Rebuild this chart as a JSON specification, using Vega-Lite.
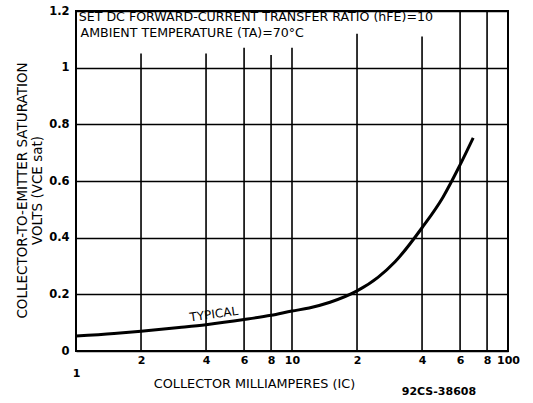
{
  "$schema": "https://vega.github.io/schema/vega-lite/v6.json",
  "width": 432,
  "height": 340,
  "autosize": {"type": "none"},
  "padding": {"left": 76, "top": 11, "right": 25, "bottom": 52},
  "background": "white",
  "config": {
    "view": {"stroke": "black", "strokeWidth": 2},
    "font": "DejaVu Sans",
    "axis": {"labelFont": "DejaVu Sans", "titleFont": "DejaVu Sans", "labelColor": "black", "titleColor": "black", "domain": false, "ticks": false}
  },
  "datasets": {
    "curve": [
      {"ic": 1, "vce": 0.053},
      {"ic": 1.5, "vce": 0.062},
      {"ic": 2, "vce": 0.07},
      {"ic": 3, "vce": 0.083},
      {"ic": 4, "vce": 0.093},
      {"ic": 6, "vce": 0.111},
      {"ic": 8, "vce": 0.126},
      {"ic": 10, "vce": 0.141},
      {"ic": 12, "vce": 0.152},
      {"ic": 15, "vce": 0.172},
      {"ic": 20, "vce": 0.212},
      {"ic": 25, "vce": 0.26},
      {"ic": 30, "vce": 0.315},
      {"ic": 40, "vce": 0.435},
      {"ic": 50, "vce": 0.543},
      {"ic": 60, "vce": 0.657},
      {"ic": 69, "vce": 0.752}
    ],
    "grid": [
      {"ic": 2, "bottom": 0, "top": 1.05},
      {"ic": 4, "bottom": 0, "top": 1.05},
      {"ic": 6, "bottom": 0, "top": 1.07},
      {"ic": 8, "bottom": 0, "top": 1.045},
      {"ic": 10, "bottom": 0, "top": 1.07},
      {"ic": 20, "bottom": 0, "top": 1.12},
      {"ic": 40, "bottom": 0, "top": 1.11},
      {"ic": 60, "bottom": 0, "top": 1.2},
      {"ic": 80, "bottom": 0, "top": 1.2}
    ],
    "notes": [
      {"ic": 1.03, "v": 1.178, "label": "SET DC FORWARD-CURRENT TRANSFER RATIO (hFE)=10"},
      {"ic": 1.05, "v": 1.122, "label": "AMBIENT TEMPERATURE (TA)=70°C"}
    ]
  },
  "layer": [
    {
      "data": {"name": "curve"},
      "mark": {"type": "line", "color": "black", "strokeWidth": 3, "interpolate": "monotone"},
      "encoding": {
        "x": {"field": "ic", "type": "quantitative", "scale": {"type": "log", "domain": [1, 100], "nice": false},
          "axis": {"values": [1, 2, 4, 6, 8, 10, 20, 40, 60, 80, 100], "grid": false, "labelFontSize": 11, "labelFontWeight": "bold", "labelPadding": 3, "labelOverlap": false, "labelFlush": false,
            "labelExpr": "datum.value == 1 ? ['', '1'] : (datum.value >= 20 && datum.value < 100) ? format(datum.value / 10, 'd') : format(datum.value, 'd')",
            "title": "COLLECTOR MILLIAMPERES (IC)", "titleFontSize": 12.8, "titleFontWeight": "normal", "titleX": 178, "titleY": 32, "titleBaseline": "middle", "titleAnchor": "middle", "titleAlign": "center"}},
        "y": {"field": "vce", "type": "quantitative", "scale": {"domain": [0, 1.2], "nice": false},
          "axis": {"values": [0, 0.2, 0.4, 0.6, 0.8, 1, 1.2], "grid": true, "gridColor": "black", "gridWidth": 1.6, "gridOpacity": 1, "labelFontSize": 11.5, "labelFontWeight": "bold", "labelPadding": 7,
            "labelExpr": "format(datum.value, '~g')",
            "title": ["COLLECTOR-TO-EMITTER SATURATION", "VOLTS (VCE sat)"], "titleFontSize": 13.5, "titleFontWeight": "normal", "titleX": -54, "titleY": 179, "titleAngle": 270, "titleBaseline": "middle", "titleAlign": "center", "titleLineHeight": 15}}
      }
    },
    {
      "data": {"name": "grid"},
      "mark": {"type": "rule", "color": "black", "strokeWidth": 1.6},
      "encoding": {
        "x": {"field": "ic", "type": "quantitative"},
        "y": {"field": "bottom", "type": "quantitative"},
        "y2": {"field": "top"}
      }
    },
    {
      "data": {"name": "notes"},
      "mark": {"type": "text", "align": "left", "baseline": "middle", "fontSize": 12.6, "color": "black"},
      "encoding": {
        "x": {"field": "ic", "type": "quantitative"},
        "y": {"field": "v", "type": "quantitative"},
        "text": {"field": "label"}
      }
    },
    {
      "data": {"values": [{"ic": 4.35, "v": 0.13, "label": "TYPICAL"}]},
      "mark": {"type": "text", "align": "center", "baseline": "middle", "fontSize": 12, "color": "black", "angle": 352},
      "encoding": {
        "x": {"field": "ic", "type": "quantitative"},
        "y": {"field": "v", "type": "quantitative"},
        "text": {"field": "label"}
      }
    },
    {
      "data": {"values": [{"ic": 47.9, "v": -0.145, "label": "92CS-38608"}]},
      "mark": {"type": "text", "align": "center", "baseline": "middle", "fontSize": 11, "fontWeight": "bold", "color": "black"},
      "encoding": {
        "x": {"field": "ic", "type": "quantitative"},
        "y": {"field": "v", "type": "quantitative"},
        "text": {"field": "label"}
      }
    }
  ]
}
